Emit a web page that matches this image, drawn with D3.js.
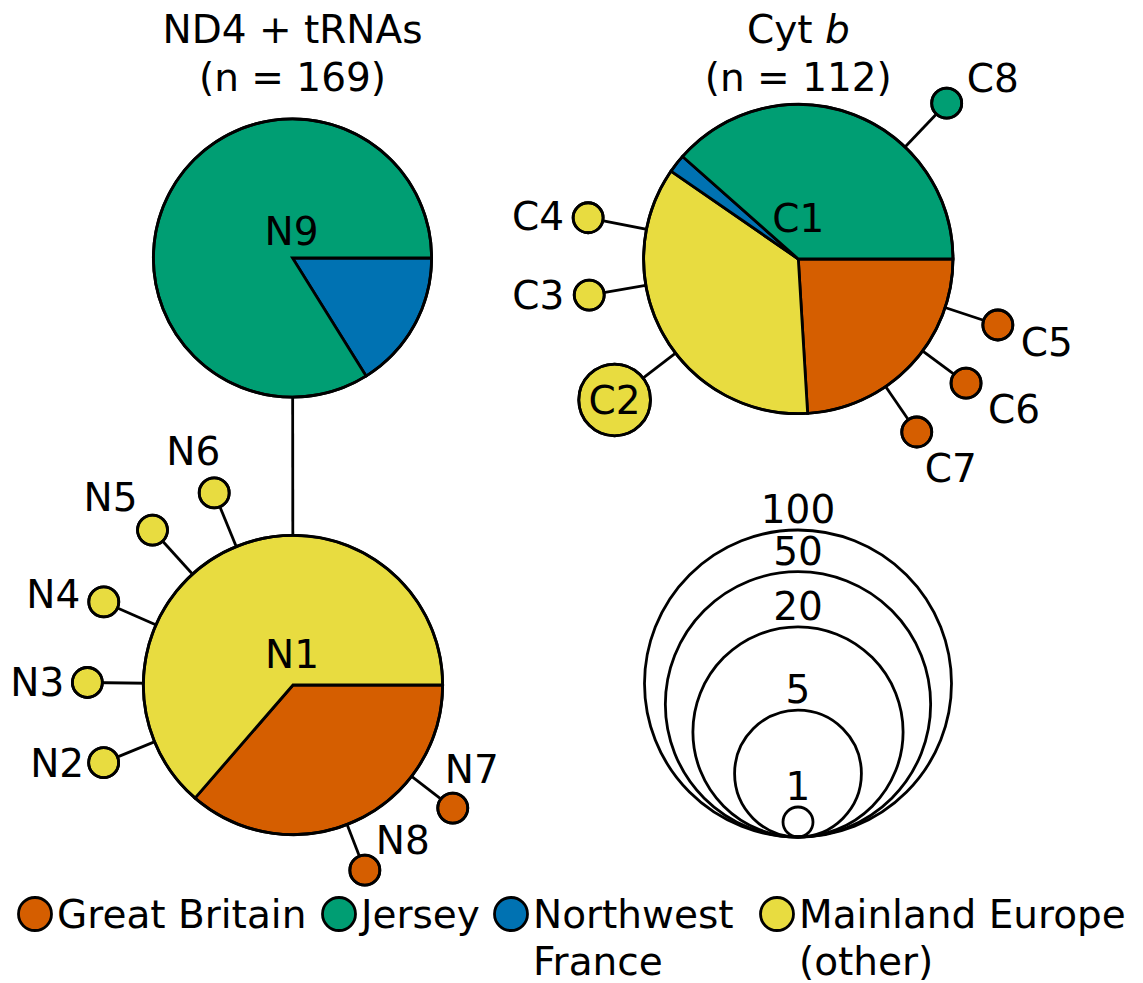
<!DOCTYPE html>
<html>
<head>
<meta charset="utf-8">
<script src="https://cdn.jsdelivr.net/npm/d3@7"></script>
<style>
  body { margin: 0; background: #fff; }
  svg text { font-family: "DejaVu Sans", sans-serif; font-size: 39px; fill: #000; }
</style>
</head>
<body>
<svg id="chart" width="1143" height="983"></svg>
<script>
// regions, in the order slices are drawn (clockwise from 3 o'clock)
const regions = ["Great Britain", "Mainland Europe", "Northwest France", "Jersey"];
const regionColors = ["#D55E00", "#E8DC40", "#0072B2", "#009E73"];

// legend order and labels
const legendRegions = ["Great Britain", "Jersey", "Northwest France", "Mainland Europe"];
const legendLabels = [["Great Britain"], ["Jersey"], ["Northwest", "France"], ["Mainland Europe", "(other)"]];

// ND4 + tRNAs haplotypes
const nd4Title = "ND4 + tRNAs";
const nd4N = 169;
const nd4Haplotypes = ["N1", "N2", "N3", "N4", "N5", "N6", "N7", "N8", "N9"];
const nd4GreatBritain = [32, 0, 0, 0, 0, 0, 1, 1, 0];
const nd4Mainland     = [56, 1, 1, 1, 1, 1, 0, 0, 0];
const nd4NWFrance     = [0, 0, 0, 0, 0, 0, 0, 0, 10];
const nd4Jersey       = [0, 0, 0, 0, 0, 0, 0, 0, 52];

// Cyt b haplotypes
const cytbN = 112;
const cytbHaplotypes = ["C1", "C2", "C3", "C4", "C5", "C6", "C7", "C8"];
const cytbGreatBritain = [25, 0, 0, 0, 1, 1, 1, 0];
const cytbMainland     = [37, 2, 1, 1, 0, 0, 0, 0];
const cytbNWFrance     = [2, 0, 0, 0, 0, 0, 0, 0];
const cytbJersey       = [40, 0, 0, 0, 0, 0, 0, 1];

// size key
const sizeKey = [100, 50, 20, 5, 1];

// network layout: hubs are placed, satellites hang off a hub at an angle (deg, clockwise from east)
// with a gap (link length); label offsets are relative to the node centre
const layout = {
  N9: { x: 292.5, y: 258, lx: -1, ly: -27 },
  N1: { x: 293, y: 685, lx: -1, ly: -31, parent: "N9" },
  N2: { hub: "N1", angle: 157.7, link: 40, lx: -46.5, ly: 0 },
  N3: { hub: "N1", angle: 180.7, link: 41, lx: -50, ly: 0 },
  N4: { hub: "N1", angle: 203.7, link: 42, lx: -50.5, ly: -8 },
  N5: { hub: "N1", angle: 227.8, link: 44.5, lx: -42, ly: -33.5 },
  N6: { hub: "N1", angle: 247.7, link: 43, lx: -21, ly: -42 },
  N7: { hub: "N1", angle: 37.6, link: 37, lx: 19, ly: -39 },
  N8: { hub: "N1", angle: 68.8, link: 34, lx: 38, ly: -30 },
  C1: { x: 798.3, y: 259, lx: 0, ly: -41 },
  C2: { hub: "C1", angle: 142.5, link: 41, lx: 0, ly: 0 },
  C3: { hub: "C1", angle: 170.2, link: 42.5, lx: -51, ly: 0 },
  C4: { hub: "C1", angle: 191.1, link: 44.5, lx: -50, ly: -2 },
  C5: { hub: "C1", angle: 18.3, link: 40.5, lx: 49, ly: 17 },
  C6: { hub: "C1", angle: 36.5, link: 39, lx: 48, ly: 26 },
  C7: { hub: "C1", angle: 55.6, link: 40, lx: 34, ly: 36 },
  C8: { hub: "C1", angle: 313.6, link: 45.5, lx: 46, ly: -25 }
};
const sizeKeyBase = { x: 798, y: 837 };

const strokeW = 2.8;
const capHalf = 14; // half cap height, to centre labels vertically

const svg = d3.select("#chart");
const color = d3.scaleOrdinal().domain(regions).range(regionColors);
const radius = d3.scaleLog().domain([1, 100]).range([15, 153.5]);

function buildNodes(names, gb, me, nwf, je) {
  return names.map((name, i) => {
    const counts = [gb[i], me[i], nwf[i], je[i]];
    return {
      name,
      total: d3.sum(counts),
      slices: regions.map((r, k) => ({ region: r, count: counts[k] })).filter(d => d.count > 0)
    };
  });
}

const nodes = buildNodes(nd4Haplotypes, nd4GreatBritain, nd4Mainland, nd4NWFrance, nd4Jersey)
  .concat(buildNodes(cytbHaplotypes, cytbGreatBritain, cytbMainland, cytbNWFrance, cytbJersey));
const byName = new Map(nodes.map(d => [d.name, d]));

// positions: hubs first, then satellites
nodes.forEach(d => {
  d.r = radius(d.total);
  const L = layout[d.name];
  if (!L.hub) { d.x = L.x; d.y = L.y; }
});
nodes.forEach(d => {
  const L = layout[d.name];
  if (L.hub) {
    const h = byName.get(L.hub);
    const dist = h.r + L.link + d.r;
    const a = L.angle * Math.PI / 180;
    d.x = h.x + dist * Math.cos(a);
    d.y = h.y + dist * Math.sin(a);
  }
});

// links
const links = [];
nodes.forEach(d => {
  const L = layout[d.name];
  const other = L.hub || L.parent;
  if (other) links.push({ source: byName.get(other), target: d });
});

svg.append("g").selectAll("line").data(links).join("line")
  .attr("x1", d => d.source.x).attr("y1", d => d.source.y)
  .attr("x2", d => d.target.x).attr("y2", d => d.target.y)
  .attr("stroke", "#000").attr("stroke-width", strokeW);

// pies
const pie = d3.pie().sort(null).value(d => d.count)
  .startAngle(Math.PI / 2).endAngle(Math.PI / 2 + 2 * Math.PI);

const nodeG = svg.append("g").selectAll("g").data(nodes).join("g")
  .attr("transform", d => `translate(${d.x},${d.y})`);

nodeG.each(function(d) {
  const g = d3.select(this);
  const arc = d3.arc().innerRadius(0).outerRadius(d.r);
  g.selectAll("path").data(pie(d.slices)).join("path")
    .attr("d", arc)
    .attr("fill", s => color(s.data.region))
    .attr("stroke", "#000").attr("stroke-width", strokeW)
    .attr("stroke-linejoin", "miter");
  g.append("circle").attr("r", d.r)
    .attr("fill", "none").attr("stroke", "#000").attr("stroke-width", strokeW);
});

svg.append("g").selectAll("text").data(nodes).join("text")
  .attr("text-anchor", "middle")
  .attr("x", d => d.x + layout[d.name].lx)
  .attr("y", d => d.y + layout[d.name].ly + capHalf)
  .text(d => d.name);

// titles
const titleG = svg.append("g").attr("text-anchor", "middle");
titleG.append("text").attr("x", byName.get("N9").x).attr("y", 43).text(nd4Title);
titleG.append("text").attr("x", byName.get("N9").x).attr("y", 91).text(`(n = ${nd4N})`);
const cyt = titleG.append("text").attr("x", byName.get("C1").x).attr("y", 43);
cyt.append("tspan").text("Cyt ");
cyt.append("tspan").attr("font-style", "italic").text("b");
titleG.append("text").attr("x", byName.get("C1").x).attr("y", 91).text(`(n = ${cytbN})`);

// size key: nested circles touching at the bottom
const keyG = svg.append("g");
keyG.selectAll("circle").data(sizeKey).join("circle")
  .attr("cx", sizeKeyBase.x)
  .attr("cy", d => sizeKeyBase.y - radius(d))
  .attr("r", d => radius(d))
  .attr("fill", "none").attr("stroke", "#000").attr("stroke-width", strokeW);
keyG.selectAll("text").data(sizeKey).join("text")
  .attr("text-anchor", "middle")
  .attr("x", sizeKeyBase.x)
  .attr("y", d => sizeKeyBase.y - 2 * radius(d) - 7)
  .text(d => d);

// legend
const legendX = [35, 339, 511, 777];
const legendY = 914;
const legG = svg.append("g").selectAll("g").data(legendRegions).join("g")
  .attr("transform", (d, i) => `translate(${legendX[i]},${legendY})`);
legG.append("circle").attr("r", 16.5)
  .attr("fill", d => color(d)).attr("stroke", "#000").attr("stroke-width", strokeW);
legG.append("text")
  .attr("x", 22).attr("y", capHalf)
  .selectAll("tspan").data((d, i) => legendLabels[i]).join("tspan")
  .attr("x", 22).attr("dy", (t, j) => j === 0 ? 0 : 47)
  .text(t => t);
</script>
</body>
</html>
